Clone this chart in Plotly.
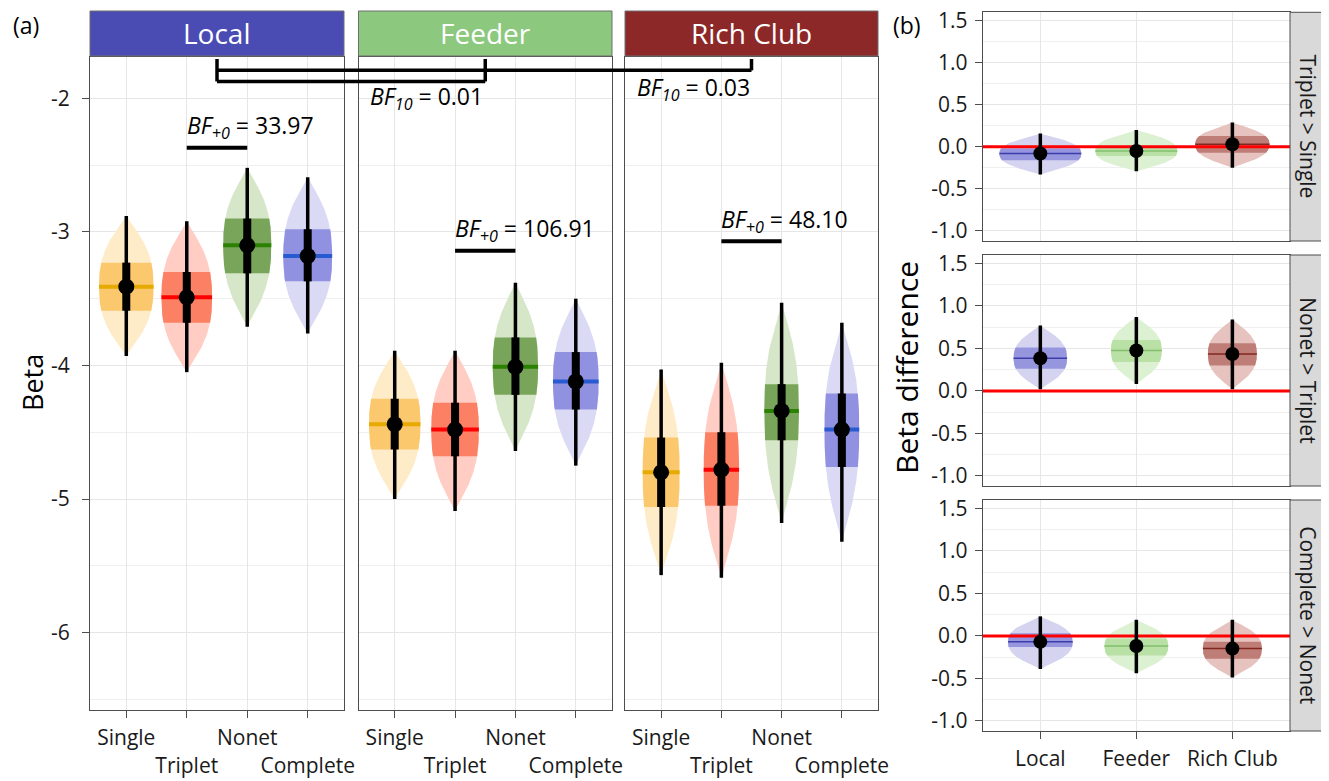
import numpy as np
import plotly.graph_objects as go

W, H = 1329, 781          # browser window
OFF = 8                   # default page body margin
FW, FH = W - OFF, H - OFF

# ---------------- data ----------------
networks = ["Local", "Feeder", "Rich Club"]
conditions = ["Single", "Triplet", "Nonet", "Complete"]
cond_ticktext = ["Single", "<br>Triplet", "Nonet", "<br>Complete"]

# (a) Beta posteriors: rows = network, cols = condition
beta_med = [[-3.41, -3.49, -3.10, -3.18],
            [-4.44, -4.48, -4.01, -4.12],
            [-4.80, -4.78, -4.34, -4.48]]
beta_lo95 = [[-3.93, -4.05, -3.71, -3.76],
             [-5.00, -5.09, -4.64, -4.75],
             [-5.57, -5.59, -5.18, -5.32]]
beta_hi95 = [[-2.88, -2.92, -2.52, -2.59],
             [-3.89, -3.89, -3.38, -3.50],
             [-4.03, -3.98, -3.53, -3.68]]
beta_lo50 = [[-3.59, -3.68, -3.31, -3.37],
             [-4.63, -4.68, -4.22, -4.33],
             [-5.06, -5.05, -4.56, -4.76]]
beta_hi50 = [[-3.23, -3.30, -2.90, -2.98],
             [-4.25, -4.28, -3.79, -3.90],
             [-4.54, -4.50, -4.14, -4.21]]

bf_plus0 = ["33.97", "106.91", "48.10"]
bf_plus0_y = [-2.37, -3.14, -3.07]
bf10 = ["0.01", "0.03"]

# (b) Beta differences: rows = contrast, cols = network
contrasts = ["Triplet > Single", "Nonet > Triplet", "Complete > Nonet"]
diff_med = [[-0.08, -0.05, 0.03],
            [0.385, 0.475, 0.435],
            [-0.07, -0.12, -0.15]]
diff_lo95 = [[-0.33, -0.29, -0.25],
             [0.02, 0.08, 0.02],
             [-0.39, -0.44, -0.49]]
diff_hi95 = [[0.16, 0.20, 0.29],
             [0.77, 0.87, 0.84],
             [0.23, 0.19, 0.19]]
diff_lo50 = [[-0.16, -0.11, -0.07],
             [0.26, 0.34, 0.30],
             [-0.13, -0.23, -0.27]]
diff_hi50 = [[-0.02, 0.01, 0.13],
             [0.51, 0.60, 0.56],
             [0.03, -0.03, -0.07]]

a_ytick_vals = [-6, -5, -4, -3, -2]
a_ytick_text = ["-6", "-5", "-4", "-3", "-2"]
a_yminor = [-6.5, -5.5, -4.5, -3.5, -2.5]
b_ytick_vals = [-1.0, -0.5, 0.0, 0.5, 1.0, 1.5]
b_ytick_text = ["-1.0", "-0.5", "0.0", "0.5", "1.0", "1.5"]
b_yminor = [-0.75, -0.25, 0.25, 0.75, 1.25]

# ---------------- styles ----------------
FONT = "Open Sans"
cond_light = ["#FEECC8", "#FFCDC3", "#D6E6C8", "#DADAF5"]
cond_dark = ["#FCC86E", "#FC8064", "#78A55A", "#9191E1"]
cond_med = ["#E6AA00", "#FF0000", "#2A8200", "#285AD2"]
net_strip = ["#4B4BB4", "#8CC87D", "#8C2828"]
net_light = ["#D4D4F0", "#DCF0D2", "#E6C3BE"]
net_dark = ["#9696DE", "#B9E1A5", "#BE7D76"]
net_med = ["#3C3CAA", "#82BE6E", "#822823"]

# layout positions in window pixels
A_X = [(90, 344), (358.5, 612), (625, 878)]
A_Y = (57, 710)
A_STRIP = (11, 56)
B_X = (982.7, 1290)
B_STRIP_X = (1290, 1326.5)
B_Y = [(12.3, 241), (255, 486), (500, 731)]

A_XR = [-0.6, 3.6]
A_YR = [-6.58, -1.69]
B_XR = [-0.6, 2.6]
B_YR = [-1.12, 1.60]

K_A = 0.946
K_B = 0.418


def pxx(p):
    return (p - OFF) / FW


def pxy(p):
    return 1 - (p - OFF) / FH


def shape_w(y, m, lo95, hi95):
    y = np.asarray(y, float)
    up = y >= m
    d = np.abs(y - m)
    d95 = np.where(up, hi95 - m, m - lo95)
    s = np.clip(d / d95, 0, 1)
    return (1 - s ** 2.5) ** 1.2


def poly(xc, hw, ylo, yhi, m, lo95, hi95):
    ys = np.linspace(ylo, yhi, 161)
    ys = np.unique(np.concatenate([ys, [m]]))
    ys = ys[(ys >= ylo) & (ys <= yhi)]
    w = shape_w(ys, m, lo95, hi95) * hw
    xs = np.concatenate([xc + w, (xc - w)[::-1]])
    yy = np.concatenate([ys, ys[::-1]])
    return xs, yy


fig = go.Figure()


def add_fills(xa, ya, xc, m, lo50, hi50, lo95, hi95, K, light, dark, medcol, medw):
    hw = 0.5 * K / (hi95 - lo95)
    xs, ys = poly(xc, hw, lo95, hi95, m, lo95, hi95)
    fig.add_trace(go.Scatter(x=xs, y=ys, fill="toself", fillcolor=light, mode="lines",
                             line=dict(width=0, color=light), xaxis=xa, yaxis=ya,
                             hoverinfo="skip", showlegend=False))
    xs, ys = poly(xc, hw, lo50, hi50, m, lo95, hi95)
    fig.add_trace(go.Scatter(x=xs, y=ys, fill="toself", fillcolor=dark, mode="lines",
                             line=dict(width=0, color=dark), xaxis=xa, yaxis=ya,
                             hoverinfo="skip", showlegend=False))
    wm = float(shape_w([m], m, lo95, hi95)[0]) * hw
    fig.add_trace(go.Scatter(x=[xc - wm, xc + wm], y=[m, m], mode="lines",
                             line=dict(width=medw, color=medcol), xaxis=xa, yaxis=ya,
                             hoverinfo="skip", showlegend=False))


def add_pointrange(xa, ya, xc, m, lo50, hi50, lo95, hi95, thin, thick, dot):
    fig.add_trace(go.Scatter(x=[xc, xc], y=[lo95, hi95], mode="lines",
                             line=dict(width=thin, color="black"), xaxis=xa, yaxis=ya,
                             hoverinfo="skip", showlegend=False))
    if thick:
        fig.add_trace(go.Scatter(x=[xc, xc], y=[lo50, hi50], mode="lines",
                                 line=dict(width=thick, color="black"), xaxis=xa, yaxis=ya,
                                 hoverinfo="skip", showlegend=False))
    fig.add_trace(go.Scatter(x=[xc], y=[m], mode="markers",
                             marker=dict(size=dot, color="black"), xaxis=xa, yaxis=ya,
                             hoverinfo="skip", showlegend=False))


# ---------------- panel (a) ----------------
for i, net in enumerate(networks):
    xa = "x" if i == 0 else f"x{i+1}"
    ya = "y" if i == 0 else f"y{i+1}"
    for j, cond in enumerate(conditions):
        args = (beta_med[i][j], beta_lo50[i][j], beta_hi50[i][j], beta_lo95[i][j], beta_hi95[i][j])
        add_fills(xa, ya, j, *args, K_A, cond_light[j], cond_dark[j], cond_med[j], 4)
        add_pointrange(xa, ya, j, *args, 3.5, 8, 16)
    fig.add_trace(go.Scatter(x=[conditions.index("Triplet"), conditions.index("Nonet")],
                             y=[bf_plus0_y[i], bf_plus0_y[i]], mode="lines",
                             line=dict(width=4, color="black"), xaxis=xa, yaxis=ya,
                             hoverinfo="skip", showlegend=False))

# ---------------- panel (b) ----------------
for r, con in enumerate(contrasts):
    xa = f"x{r+4}"
    ya = f"y{r+4}"
    for j, net in enumerate(networks):
        args = (diff_med[r][j], diff_lo50[r][j], diff_hi50[r][j], diff_lo95[r][j], diff_hi95[r][j])
        add_fills(xa, ya, j, *args, K_B, net_light[j], net_dark[j], net_med[j], 1.5)
    fig.add_trace(go.Scatter(x=B_XR, y=[0, 0], mode="lines", line=dict(width=3, color="#FF0000"),
                             xaxis=xa, yaxis=ya, hoverinfo="skip", showlegend=False))
    for j, net in enumerate(networks):
        args = (diff_med[r][j], diff_lo50[r][j], diff_hi50[r][j], diff_lo95[r][j], diff_hi95[r][j])
        add_pointrange(xa, ya, j, *args, 3.5, 0, 14)

# ---------------- axes ----------------
GRID = "#E6E6E6"
MINOR = "#EFEFEF"
BORDER = "#4D4D4D"
tickfont = dict(family=FONT, size=21, color="#1A1A1A")

layout = dict(width=FW, height=FH, margin=dict(l=0, r=0, t=0, b=0, autoexpand=False),
              paper_bgcolor="white", plot_bgcolor="white", showlegend=False,
              font=dict(family=FONT, color="black"))

for i in range(3):
    xk = "xaxis" if i == 0 else f"xaxis{i+1}"
    yk = "yaxis" if i == 0 else f"yaxis{i+1}"
    ya = "y" if i == 0 else f"y{i+1}"
    xa = "x" if i == 0 else f"x{i+1}"
    layout[xk] = dict(domain=[pxx(A_X[i][0]), pxx(A_X[i][1])], anchor=ya, range=A_XR,
                      tickmode="array", tickvals=list(range(len(conditions))), ticktext=cond_ticktext,
                      tickangle=0, automargin=False, ticklabeloverflow="allow",
                      showgrid=True, gridcolor=GRID, gridwidth=1, zeroline=False,
                      showline=True, mirror=True, linecolor=BORDER, linewidth=1,
                      ticks="outside", ticklen=7, tickcolor=BORDER, tickfont=tickfont,
                      ticklabelstandoff=2, fixedrange=True)
    yd = dict(domain=[pxy(A_Y[1]), pxy(A_Y[0])], anchor=xa, range=A_YR, automargin=False,
              ticklabeloverflow="allow",
              tickmode="array", tickvals=a_ytick_vals, ticktext=a_ytick_text,
              showgrid=True, gridcolor=GRID, gridwidth=1, zeroline=False,
              minor=dict(tickmode="array", tickvals=a_yminor, showgrid=True, gridcolor=MINOR, gridwidth=1, ticks=""),
              showline=True, mirror=True, linecolor=BORDER, linewidth=1, fixedrange=True)
    if i == 0:
        yd.update(ticks="outside", ticklen=7, tickcolor=BORDER, tickfont=tickfont, ticklabelstandoff=8)
    else:
        yd.update(showticklabels=False, ticks="")
    layout[yk] = yd

for r in range(3):
    xk = f"xaxis{r+4}"
    yk = f"yaxis{r+4}"
    xd = dict(domain=[pxx(B_X[0]), pxx(B_X[1])], anchor=f"y{r+4}", range=B_XR, automargin=False,
              ticklabeloverflow="allow",
              tickmode="array", tickvals=list(range(len(networks))), ticktext=networks, tickangle=0,
              showgrid=True, gridcolor=GRID, gridwidth=1, zeroline=False,
              showline=True, mirror=True, linecolor=BORDER, linewidth=1, fixedrange=True)
    if r == 2:
        xd.update(ticks="outside", ticklen=7, tickcolor=BORDER, tickfont=tickfont, ticklabelstandoff=2)
    else:
        xd.update(showticklabels=False, ticks="")
    layout[xk] = xd
    layout[yk] = dict(domain=[pxy(B_Y[r][1]), pxy(B_Y[r][0])], anchor=f"x{r+4}", range=B_YR,
                      automargin=False, ticklabeloverflow="allow",
                      tickmode="array", tickvals=b_ytick_vals, ticktext=b_ytick_text,
                      showgrid=True, gridcolor=GRID, gridwidth=1, zeroline=False,
                      minor=dict(tickmode="array", tickvals=b_yminor, showgrid=True, gridcolor=MINOR, gridwidth=1, ticks=""),
                      showline=True, mirror=True, linecolor=BORDER, linewidth=1,
                      ticks="outside", ticklen=7, tickcolor=BORDER, tickfont=tickfont,
                      ticklabelstandoff=3, fixedrange=True)

fig.update_layout(**layout)

shapes = []
annotations = []

# strips (a)
for i, net in enumerate(networks):
    shapes.append(dict(type="rect", xref="paper", yref="paper",
                       x0=pxx(A_X[i][0]), x1=pxx(A_X[i][1]),
                       y0=pxy(A_STRIP[1]), y1=pxy(A_STRIP[0]),
                       fillcolor=net_strip[i], line=dict(color="#6E6E6E", width=1)))
    annotations.append(dict(xref="paper", yref="paper",
                            x=pxx((A_X[i][0] + A_X[i][1]) / 2), y=pxy((A_STRIP[0] + A_STRIP[1]) / 2),
                            text=net, showarrow=False, xanchor="center", yanchor="middle",
                            font=dict(family=FONT, size=28, color="white")))

# strips (b)
for r, con in enumerate(contrasts):
    shapes.append(dict(type="rect", xref="paper", yref="paper",
                       x0=pxx(B_STRIP_X[0]), x1=pxx(B_STRIP_X[1]),
                       y0=pxy(B_Y[r][1]), y1=pxy(B_Y[r][0]),
                       fillcolor="#D9D9D9", line=dict(color=BORDER, width=1)))
    annotations.append(dict(xref="paper", yref="paper",
                            x=pxx((B_STRIP_X[0] + B_STRIP_X[1]) / 2), y=pxy((B_Y[r][0] + B_Y[r][1]) / 2),
                            text=con, showarrow=False, textangle=90, xanchor="center", yanchor="middle",
                            font=dict(family=FONT, size=21, color="#1A1A1A")))

# BF+0 labels
for i in range(3):
    xa = "x" if i == 0 else f"x{i+1}"
    ya = "y" if i == 0 else f"y{i+1}"
    annotations.append(dict(xref=xa, yref=ya, x=conditions.index("Triplet"), y=bf_plus0_y[i],
                            text=f"<i>BF</i><sub><i>+0</i></sub> = {bf_plus0[i]}",
                            showarrow=False, xanchor="left", yanchor="middle", yshift=21, xshift=-2,
                            font=dict(family=FONT, size=23, color="black")))


def panel_center_paper(i):
    x0, x1 = A_X[i]
    c = (len(conditions) - 1) / 2
    return pxx(x0 + (c - A_XR[0]) / (A_XR[1] - A_XR[0]) * (x1 - x0))


br_top = -1.705
br_upper = -1.79
br_lower = -1.873
cL, cF, cR = panel_center_paper(0), panel_center_paper(1), panel_center_paper(2)
blk = dict(color="black", width=3.5)
shapes += [
    dict(type="line", xref="paper", yref="y", x0=cL, x1=cR, y0=br_upper, y1=br_upper, line=blk),
    dict(type="line", xref="paper", yref="y", x0=cL, x1=cF, y0=br_lower, y1=br_lower, line=blk),
    dict(type="line", xref="paper", yref="y", x0=cL, x1=cL, y0=br_top, y1=br_lower, line=blk),
    dict(type="line", xref="paper", yref="y", x0=cF, x1=cF, y0=br_top, y1=br_lower, line=blk),
    dict(type="line", xref="paper", yref="y", x0=cR, x1=cR, y0=br_top, y1=br_upper, line=blk),
]
annotations.append(dict(xref="x2", yref="y2", x=-0.45, y=-1.99,
                        text=f"<i>BF</i><sub><i>10</i></sub> = {bf10[0]}", showarrow=False,
                        xanchor="left", yanchor="middle", font=dict(family=FONT, size=23, color="black")))
annotations.append(dict(xref="x3", yref="y3", x=-0.44, y=-1.925,
                        text=f"<i>BF</i><sub><i>10</i></sub> = {bf10[1]}", showarrow=False,
                        xanchor="left", yanchor="middle", font=dict(family=FONT, size=23, color="black")))

annotations.append(dict(xref="paper", yref="paper", x=pxx(11), y=pxy(25), text="(a)", showarrow=False,
                        xanchor="left", yanchor="middle", font=dict(family=FONT, size=23, color="black")))
annotations.append(dict(xref="paper", yref="paper", x=pxx(891), y=pxy(25), text="(b)", showarrow=False,
                        xanchor="left", yanchor="middle", font=dict(family=FONT, size=23, color="black")))
annotations.append(dict(xref="paper", yref="paper", x=pxx(32), y=pxy(383), text="Beta", showarrow=False,
                        textangle=-90, xanchor="center", yanchor="middle",
                        font=dict(family=FONT, size=27, color="black")))
annotations.append(dict(xref="paper", yref="paper", x=pxx(906), y=pxy(368), text="Beta difference",
                        showarrow=False, textangle=-90, xanchor="center", yanchor="middle",
                        font=dict(family=FONT, size=30, color="black")))

fig.update_layout(shapes=shapes, annotations=annotations)
fig.write_html("out.html")
